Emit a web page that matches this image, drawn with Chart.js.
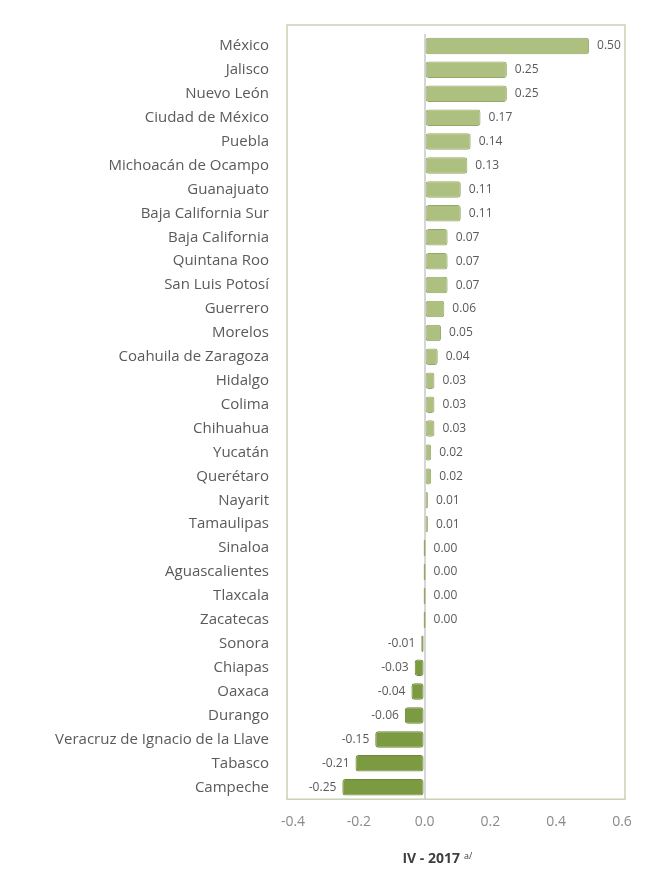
<!DOCTYPE html>
<html>
<head>
<meta charset="utf-8">
<script src="https://cdn.jsdelivr.net/npm/chart.js@4"></script>
<style>
  html, body { margin: 0; padding: 0; background: #fff; }
  #wrap { width: 649px; height: 886px; }
</style>
</head>
<body>
<div id="wrap"><canvas id="statesChart"></canvas></div>
<script>
// Categories (top to bottom)
const states = [
    "México", "Jalisco", "Nuevo León", "Ciudad de México", "Puebla",
    "Michoacán de Ocampo", "Guanajuato", "Baja California Sur", "Baja California",
    "Quintana Roo", "San Luis Potosí", "Guerrero", "Morelos", "Coahuila de Zaragoza",
    "Hidalgo", "Colima", "Chihuahua", "Yucatán", "Querétaro", "Nayarit",
    "Tamaulipas", "Sinaloa", "Aguascalientes", "Tlaxcala", "Zacatecas", "Sonora",
    "Chiapas", "Oaxaca", "Durango", "Veracruz de Ignacio de la Llave", "Tabasco", "Campeche"
];

// Values for IV - 2017
const values = [
    0.50, 0.25, 0.25, 0.17, 0.14,
    0.13, 0.11, 0.11, 0.07,
    0.07, 0.07, 0.06, 0.05, 0.04,
    0.03, 0.03, 0.03, 0.02, 0.02, 0.01,
    0.01, 0.00, 0.00, 0.00, 0.00, -0.01,
    -0.03, -0.04, -0.06, -0.15, -0.21, -0.25
];

// Axis ticks
const xTicks = [-0.4, -0.2, 0.0, 0.2, 0.4, 0.6];

const titleText = "IV - 2017";
const titleNote = "a/";

// Frame round the plot area + value labels + title with superscript
const extras = {
    id: 'extras',
    beforeDatasetsDraw(chart) {
        const { ctx, chartArea } = chart;
        ctx.save();
        ctx.strokeStyle = '#c9d1b4';
        ctx.lineWidth = 1.5;
        ctx.strokeRect(chartArea.left - 6, chartArea.top - 9, chartArea.right - chartArea.left + 9, chartArea.bottom - chartArea.top + 9);
        ctx.restore();
    },
    afterDatasetsDraw(chart) {
        const { ctx } = chart;
        const meta = chart.getDatasetMeta(0);
        ctx.save();
        ctx.font = '12px "Open Sans"';
        ctx.fillStyle = '#595959';
        ctx.textBaseline = 'middle';
        meta.data.forEach((bar, i) => {
            const v = values[i];
            const txt = v.toFixed(2);
            if (v < 0) {
                ctx.textAlign = 'right';
                ctx.fillText(txt, Math.min(bar.x, bar.base) - 6, bar.y);
            } else {
                ctx.textAlign = 'left';
                ctx.fillText(txt, Math.max(bar.x, bar.base) + 8, bar.y);
            }
        });
        // axis title
        const xs = chart.scales.x;
        const cx = xs.getPixelForValue(0.02);
        const ty = xs.bottom + 15;
        ctx.font = 'bold 14px "Open Sans"';
        ctx.fillStyle = '#3f3f3f';
        ctx.textAlign = 'center';
        ctx.fillText(titleText, cx, ty);
        const w = ctx.measureText(titleText).width;
        ctx.font = '9px "Open Sans"';
        ctx.textAlign = 'left';
        ctx.fillText(titleNote, cx + w / 2 + 4, ty - 3);
        ctx.restore();
    }
};

const ctx = document.getElementById('statesChart').getContext('2d');

new Chart(ctx, {
    type: 'bar',
    data: {
        labels: states,
        datasets: [{
            data: values,
            backgroundColor: (c) => (values[c.dataIndex] < 0 ? '#7c9a42' : '#adc07f'),
            borderColor: (c) => (values[c.dataIndex] < 0 ? '#6b8838' : '#94a868'),
            borderWidth: 1,
            borderRadius: 3,
            borderSkipped: false,
            minBarLength: 2,
            categoryPercentage: 0.75,
            barPercentage: 0.92
        }]
    },
    options: {
        indexAxis: 'y',
        responsive: true,
        maintainAspectRatio: false,
        animation: false,
        layout: { padding: { top: 34, right: 27, bottom: 42, left: 0 } },
        plugins: {
            legend: { display: false },
            tooltip: { enabled: false }
        },
        scales: {
            x: {
                min: -0.4,
                max: 0.6,
                afterBuildTicks: (scale) => { scale.ticks = xTicks.map(v => ({ value: v })); },
                ticks: {
                    color: '#8a8a8a',
                    font: { family: 'Open Sans', size: 14 },
                    padding: 14,
                    callback: (v) => Number(v).toFixed(1)
                },
                grid: {
                    drawTicks: false,
                    color: (c) => (c.tick && c.tick.value === 0 ? '#d6d6d6' : 'rgba(0,0,0,0)'),
                    lineWidth: 2
                },
                border: { display: false }
            },
            y: {
                afterFit: (scale) => { scale.width = 293; },
                ticks: {
                    color: '#5a5a5a',
                    font: { family: 'Open Sans', size: 15 },
                    padding: 24,
                    autoSkip: false
                },
                grid: { display: false, drawTicks: false },
                border: { display: false }
            }
        }
    },
    plugins: [extras]
});
</script>
</body>
</html>
